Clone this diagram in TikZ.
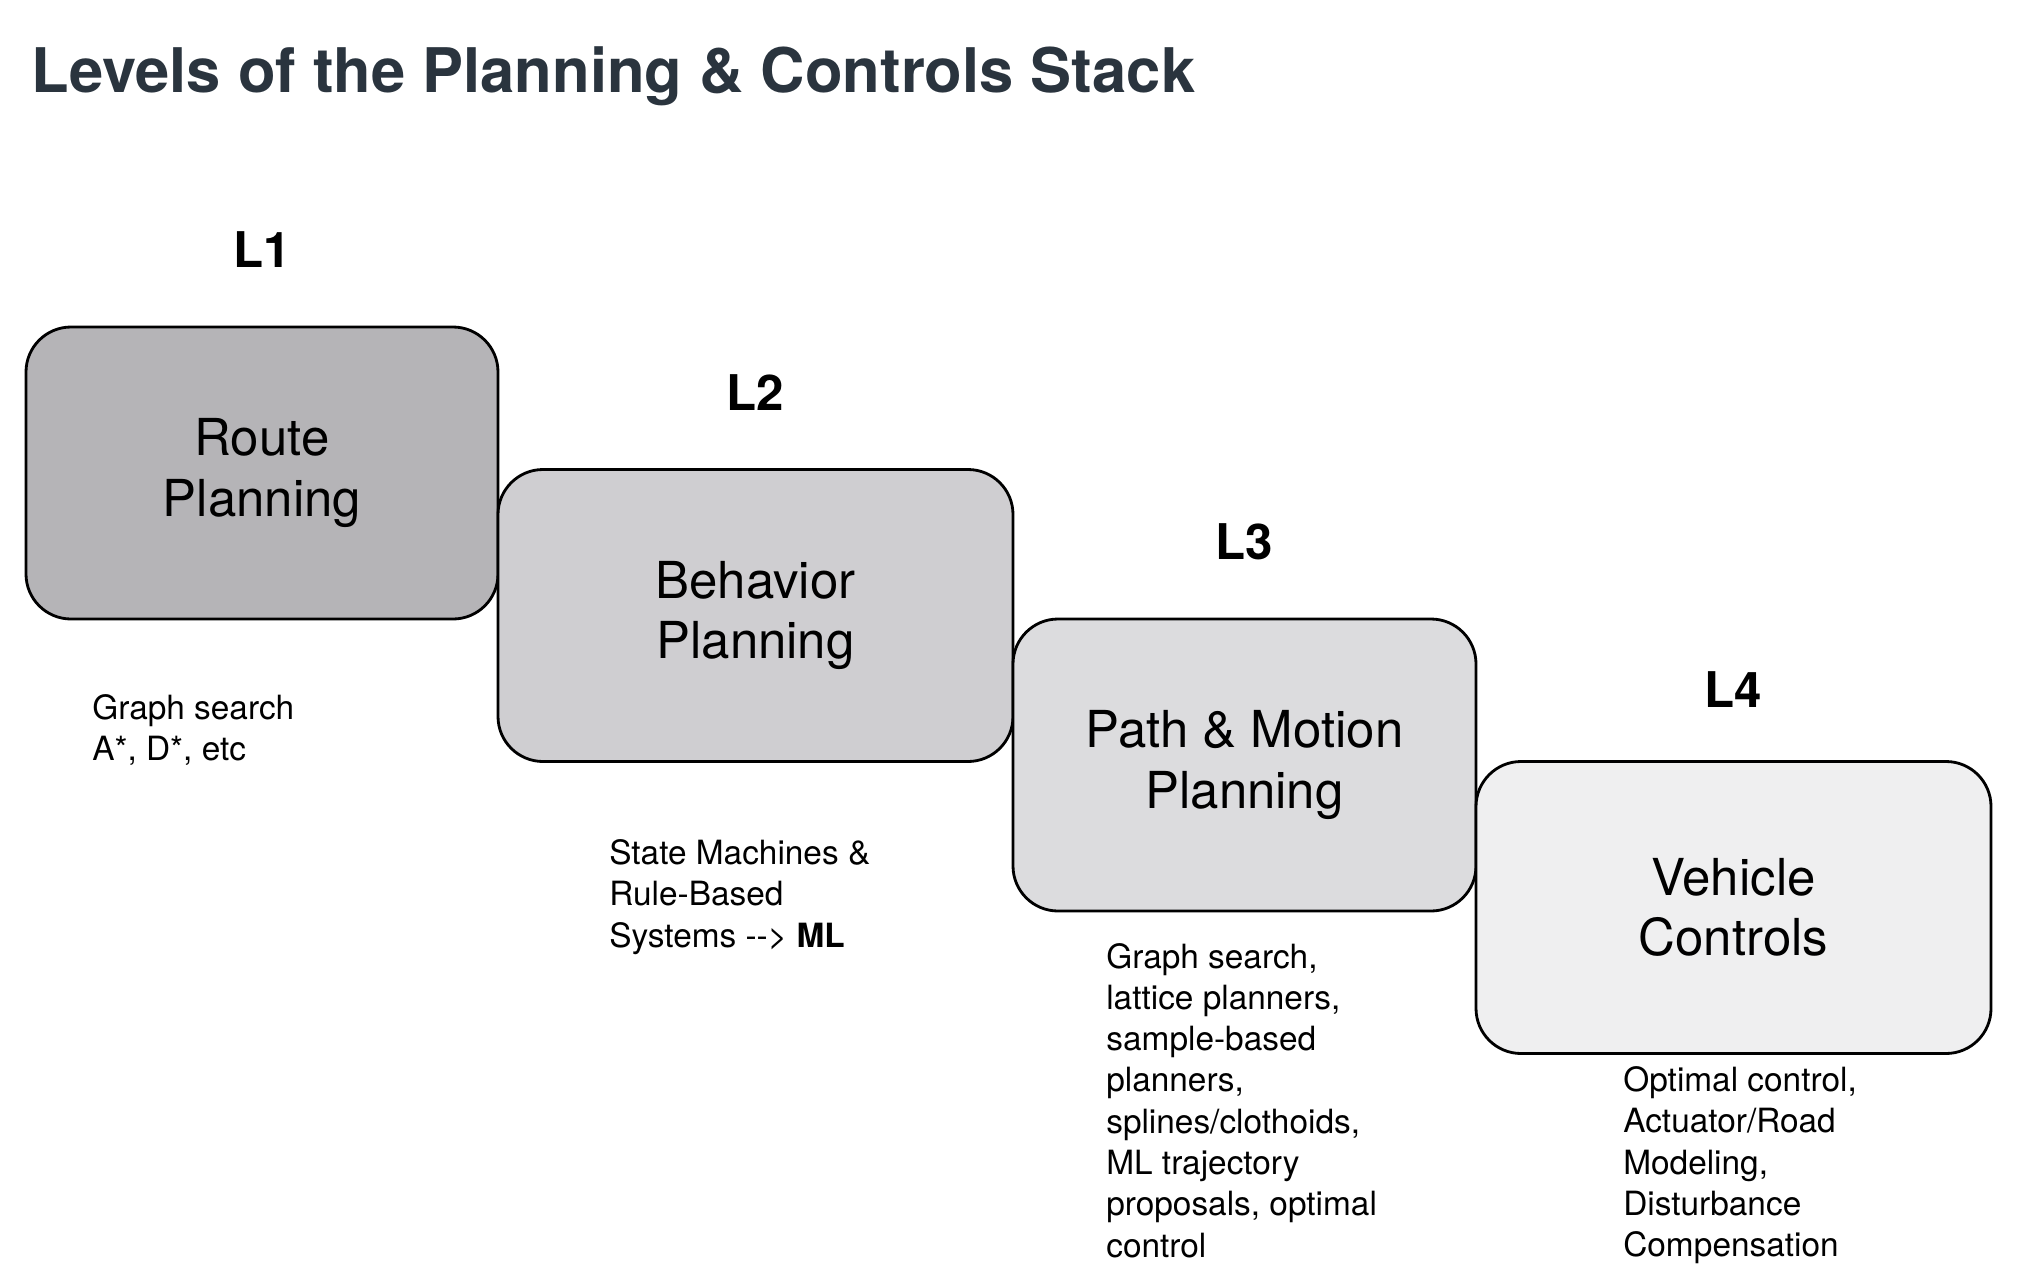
\documentclass[tikz,border=0pt]{standalone}
\usepackage{fontspec}
\setmainfont{TeX Gyre Heros}
\usepackage{tikz}
\usetikzlibrary{positioning}
\definecolor{grisTitulo}{RGB}{42,52,62}
\definecolor{grisUno}{RGB}{181,180,183}
\definecolor{grisDos}{RGB}{207,206,209}
\definecolor{grisTres}{RGB}{220,220,222}
\definecolor{grisCuatro}{RGB}{239,239,240}

\begin{document}
\begin{tikzpicture}[
        stage/.style={draw, line width=0.8pt, rounded corners=0.45cm, align=center,
                      minimum height=2.92cm,
                      font=\fontsize{14.5}{17.2}\selectfont},
        level/.style={inner sep=0pt, font=\fontsize{14}{16}\selectfont\bfseries},
        notes/.style={align=left, inner sep=0pt,
                      font=\fontsize{9.5}{11.75}\selectfont},
        node distance=0.57cm
    ]
        \useasboundingbox (0,0) rectangle (20.18,-12.70);
        \node[anchor=base west, inner sep=0pt, text=grisTitulo,
              font=\fontsize{17.5}{21}\selectfont\bfseries] (title) at (0.31,-0.93)
              {Levels of the Planning \& Controls Stack};

        % the four stages, stepping down to the right
        \node[stage, fill=grisUno, minimum width=4.72cm] (route) at (2.62,-4.73)
              {Route\\Planning};
        \node[stage, fill=grisDos, minimum width=5.15cm] (behavior) at (7.555,-6.155)
              {Behavior\\Planning};
        \node[stage, fill=grisTres, minimum width=4.63cm] (motion) at (12.445,-7.65)
              {Path \& Motion\\Planning};
        \node[stage, fill=grisCuatro, minimum width=5.15cm] (controls) at (17.335,-9.075)
              {Vehicle\\Controls};

        \node[level, above=of route] (l1) {L1};
        \node[level, above=of behavior] (l2) {L2};
        \node[level, above=of motion] (l3) {L3};
        \node[level, above=0.52cm of controls] (l4) {L4};

        % methods used at each level
        \node[notes, below right=0.73cm and 0.67cm of route.south west] (routeNotes)
              {Graph search\\A*, D*, etc};
        \node[notes, below right=0.76cm and 1.12cm of behavior.south west] (behaviorNotes)
              {State Machines \&\\Rule-Based\\Systems -{}-> \textbf{ML}};
        \node[notes, below right=0.30cm and 0.94cm of motion.south west] (motionNotes)
              {Graph search,\\lattice planners,\\sample-based\\planners,\\splines/clothoids,\\ML trajectory\\proposals, optimal\\control};
        \node[notes, below right=0.11cm and 1.48cm of controls.south west] (controlsNotes)
              {Optimal control,\\Actuator/Road\\Modeling,\\Disturbance\\Compensation};
    \end{tikzpicture}
\end{document}
